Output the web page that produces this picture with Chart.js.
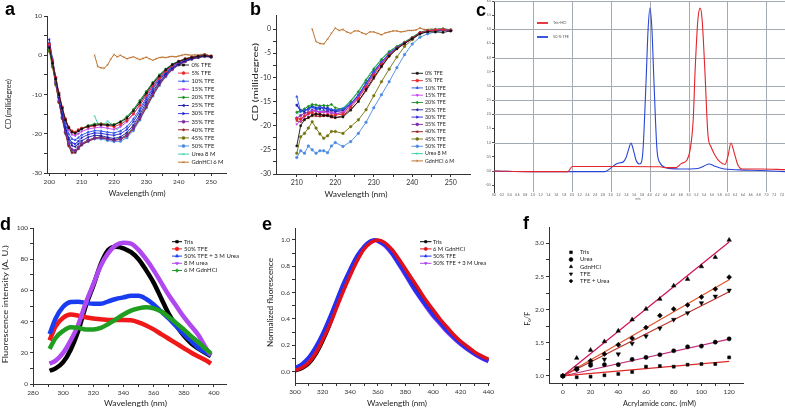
<!DOCTYPE html>
<html>
<head>
<meta charset="utf-8">
<script src="https://cdn.jsdelivr.net/npm/chart.js"></script>
<style>
  html, body { margin: 0; padding: 0; background: #fff; }
  #fig { position: relative; width: 785px; height: 410px; overflow: hidden; }
  #fig canvas { position: absolute; }
  .tag { position: absolute; z-index: 2; font: bold 18px "Liberation Sans", Arial, sans-serif; line-height: 1; color: #000; }
</style>
</head>
<body>
<div id="fig">
  <div class="tag" style="left:5px;top:0px">a</div>
  <div class="tag" style="left:250px;top:0px">b</div>
  <div class="tag" style="left:476px;top:1px">c</div>
  <div class="tag" style="left:0px;top:215px">d</div>
  <div class="tag" style="left:262px;top:215px">e</div>
  <div class="tag" style="left:523px;top:214px">f</div>
</div>
<script>
// ---------- data: a (CD, 200-250 nm) ----------
const aWave = [200,201,202,203,204,205,206,207,208,209,210,212,214,216,218,220,222,224,226,228,230,232,234,236,238,240,242,244,246,248,250];
const aTFE0  = [2.0,-2.0,-6.0,-10.0,-13.5,-16.5,-18.5,-19.6,-19.9,-19.3,-18.8,-18.1,-17.8,-17.7,-17.8,-17.8,-17.0,-16.0,-14.2,-12.0,-9.6,-7.2,-5.3,-3.7,-2.4,-1.6,-1.0,-0.6,-0.3,-0.1,-0.3];
const aTFE5  = [2.8,-1.5,-5.6,-9.6,-13.2,-16.2,-18.3,-19.3,-19.6,-19.0,-18.6,-18.3,-18.0,-17.6,-17.9,-18.2,-17.6,-16.6,-14.9,-12.7,-10.2,-7.8,-5.8,-4.0,-2.6,-1.6,-0.9,-0.5,-0.2,0.1,-0.2];
const aTFE10 = [3.2,-1.2,-5.8,-10.2,-14.0,-17.5,-20.0,-21.3,-21.6,-21.0,-20.3,-19.6,-19.2,-19.3,-19.6,-19.8,-19.3,-18.2,-16.2,-13.6,-10.8,-8.2,-6.0,-4.2,-2.8,-1.8,-1.1,-0.6,-0.3,0.0,-0.3];
const aTFE15 = [2.2,-1.8,-6.0,-10.2,-13.8,-16.8,-19.0,-20.2,-20.5,-20.0,-19.4,-18.8,-18.5,-18.3,-18.6,-18.9,-18.2,-17.0,-15.0,-12.6,-10.0,-7.6,-5.6,-3.9,-2.6,-1.7,-1.0,-0.6,-0.3,0.1,-0.2];
const aTFE20 = [1.5,-2.5,-6.3,-10.3,-13.5,-16.4,-18.4,-19.5,-19.8,-19.2,-18.6,-17.9,-17.5,-17.4,-17.6,-17.6,-16.9,-15.6,-13.8,-11.5,-9.2,-6.9,-5.0,-3.5,-2.3,-1.5,-0.9,-0.5,-0.2,0.2,-0.2];
const aTFE25 = [4.0,-1.0,-6.0,-10.8,-15.0,-18.6,-21.5,-23.0,-23.3,-22.6,-21.8,-20.9,-20.4,-20.5,-20.9,-21.2,-20.8,-19.7,-17.8,-15.0,-12.0,-9.2,-6.8,-4.8,-3.3,-2.2,-1.4,-0.9,-0.5,-0.2,-0.4];
const aTFE30 = [3.0,-1.4,-6.2,-10.8,-14.8,-18.3,-21.0,-22.3,-22.6,-21.9,-21.0,-20.2,-19.8,-19.9,-20.2,-20.4,-20.0,-18.9,-16.9,-14.2,-11.3,-8.6,-6.3,-4.5,-3.0,-2.0,-1.3,-0.8,-0.4,-0.1,-0.4];
const aTFE35 = [2.4,-2.0,-6.8,-11.5,-15.6,-19.4,-22.5,-24.0,-24.3,-23.4,-22.5,-21.6,-21.1,-21.0,-21.3,-21.6,-21.3,-20.4,-18.6,-15.8,-12.8,-9.8,-7.2,-5.1,-3.5,-2.3,-1.5,-0.9,-0.5,-0.2,-0.4];
const aTFE40 = [2.0,-2.4,-7.2,-12.0,-16.2,-20.0,-23.2,-24.9,-24.8,-23.8,-22.8,-21.9,-21.2,-21.0,-21.4,-21.7,-21.4,-20.6,-18.8,-16.2,-13.2,-10.2,-7.5,-5.3,-3.6,-2.4,-1.6,-1.0,-0.6,-0.3,-0.5];
const aTFE45 = [1.0,-3.0,-7.5,-12.0,-16.0,-19.6,-22.6,-24.2,-24.3,-23.5,-22.6,-21.7,-21.0,-20.8,-21.2,-21.5,-21.2,-20.2,-18.3,-15.6,-12.6,-9.7,-7.1,-5.0,-3.4,-2.3,-1.5,-0.9,-0.5,-0.2,-0.4];
const aTFE50 = [1.8,-2.6,-7.2,-11.8,-16.0,-19.8,-22.9,-24.5,-24.7,-23.8,-22.9,-22.0,-21.3,-21.3,-21.7,-22.0,-21.9,-21.0,-19.2,-16.5,-13.4,-10.4,-7.7,-5.5,-3.7,-2.5,-1.6,-1.0,-0.6,-0.3,-0.5];
const aUreaWave = [214,215,216,217,218,219,220,221,222,224,226,228,230,232,234,236,238,240,242,244,246,248,250];
const aUrea  = [-15.5,-17.4,-17.8,-17.6,-16.8,-17.4,-18.3,-18.9,-18.0,-16.0,-14.0,-11.6,-9.2,-6.9,-5.0,-3.5,-2.3,-1.5,-0.9,-0.4,-0.1,0.3,-0.2];
const gdnWave = [214,215,216,217,218,219,220,221,222,223,224,225,226,227,228,229,230,231,232,233,234,235,236,237,238,239,240,241,242,243,244,245,246,247,248,249,250];
const aGdn   = [0.0,-2.9,-3.2,-3.3,-2.5,-1.0,0.2,-0.4,0.0,-0.5,-0.9,-0.6,-0.4,-0.8,-1.1,-0.8,-0.5,-0.9,-1.3,-0.9,-0.6,-0.5,-0.6,-0.4,-0.3,-0.4,-0.2,0.0,0.2,0.1,0.0,0.1,0.0,0.2,0.1,-0.1,-0.3];

// ---------- data: b (CD, 210-250 nm) ----------
const bWave = [210,211,212,213,214,215,216,217,218,219,220,222,224,226,228,230,232,234,236,238,240,242,244,246,248,250];
const bTFE0  = [-24.2,-20.0,-18.8,-18.3,-17.8,-17.6,-17.7,-17.9,-17.9,-18.1,-18.3,-18.2,-16.8,-15.0,-12.5,-10.0,-7.7,-5.6,-4.1,-3.0,-2.0,-1.0,-0.6,-0.6,-0.7,-0.4];
const bTFE5  = [-18.6,-18.6,-18.0,-17.5,-17.3,-17.6,-17.6,-17.8,-17.7,-17.9,-17.8,-17.6,-16.2,-14.4,-12.0,-9.5,-7.3,-5.4,-4.0,-2.9,-1.9,-0.8,-0.4,-0.2,-0.1,-0.3];
const bTFE10 = [-14.0,-17.0,-16.8,-16.5,-16.2,-16.6,-16.1,-16.4,-16.7,-16.6,-16.8,-16.5,-15.4,-13.6,-11.2,-8.8,-6.8,-5.0,-3.8,-2.8,-1.9,-0.8,-0.4,-0.3,-0.1,-0.3];
const bTFE15 = [-19.7,-18.9,-18.1,-17.7,-17.0,-16.9,-17.2,-17.1,-17.4,-17.3,-17.6,-17.2,-15.8,-14.0,-11.6,-9.1,-7.0,-5.2,-3.9,-2.9,-1.9,-0.9,-0.4,-0.2,-0.1,-0.3];
const bTFE20 = [-17.2,-16.9,-16.5,-16.0,-15.6,-15.7,-15.9,-15.8,-15.9,-15.6,-16.3,-16.6,-15.0,-13.0,-10.6,-8.3,-6.3,-4.7,-3.6,-2.7,-1.7,-0.7,-0.3,-0.1,0.0,-0.2];
const bTFE25 = [-15.7,-16.8,-17.0,-16.4,-16.1,-16.6,-16.5,-16.2,-16.6,-16.8,-17.1,-16.9,-15.6,-13.8,-11.3,-8.9,-6.9,-5.1,-3.9,-2.9,-1.9,-0.8,-0.4,-0.2,-0.1,-0.3];
const bTFE30 = [-15.8,-17.0,-16.8,-16.7,-16.0,-16.3,-16.0,-16.5,-16.3,-16.7,-16.9,-16.7,-15.5,-13.7,-11.2,-8.8,-6.8,-5.1,-3.9,-2.9,-1.9,-0.8,-0.4,-0.2,-0.1,-0.3];
const bTFE35 = [-18.4,-17.9,-17.4,-17.3,-16.8,-17.0,-17.2,-17.1,-17.0,-17.3,-17.5,-17.3,-15.9,-14.1,-11.7,-9.2,-7.1,-5.2,-3.9,-2.9,-1.9,-0.8,-0.4,-0.2,-0.1,-0.3];
const bTFE40 = [-19.0,-19.2,-18.6,-18.4,-18.0,-18.0,-18.1,-18.0,-18.0,-18.3,-18.4,-17.9,-16.6,-15.0,-12.8,-10.3,-7.9,-5.7,-4.1,-3.0,-2.0,-0.9,-0.5,-0.3,-0.2,-0.4];
const bTFE45 = [-25.7,-22.3,-21.6,-20.5,-19.2,-20.5,-21.7,-22.6,-22.1,-21.2,-21.2,-21.6,-20.2,-18.8,-16.7,-13.8,-10.9,-8.3,-5.8,-3.6,-2.2,-1.0,-0.4,-0.3,-0.1,-0.2];
const bTFE50 = [-26.6,-25.2,-25.7,-24.2,-25.0,-25.7,-25.2,-25.2,-25.6,-24.2,-23.5,-24.3,-23.3,-21.6,-19.3,-16.3,-13.6,-10.9,-8.0,-5.3,-3.1,-1.7,-1.0,-0.6,-0.3,-0.3];
const bUrea  = [-17.5,-17.2,-17.0,-16.3,-15.8,-16.3,-16.7,-17.0,-16.9,-16.8,-16.8,-16.3,-14.8,-12.8,-10.4,-8.1,-6.2,-4.6,-3.6,-2.7,-1.7,-0.6,-0.3,-0.1,0.1,-0.2];
const bGdn   = [0.0,-2.6,-3.0,-3.1,-2.1,-0.9,0.2,-0.3,-0.1,-0.6,-0.9,-0.4,-0.4,-0.8,-1.1,-0.6,-0.6,-0.9,-1.2,-0.8,-0.6,-0.4,-0.4,-0.6,-0.5,-0.3,-0.3,-0.2,0.2,-0.1,-0.1,0.0,-0.1,0.0,0.1,-0.1,-0.2];

const cdLabels = ['0% TFE','5% TFE','10% TFE','15% TFE','20% TFE','25% TFE','30% TFE','35% TFE','40% TFE','45% TFE','50% TFE','Urea 8 M','GdnHCl 6 M'];
const cdColors = ['#111111','#e8262b','#2a52e6','#c444f2','#1f8f1f','#1c1ca6','#2424dc','#7a2aa8','#8b1212','#72720c','#4a8ae0','#2fc9a6','#b8651a'];
const cdStyles = ['rect','circle','triangle','triangle','rectRot','triangle','triangle','circle','star','circle','circle','crossRot','crossRot'];
const cdRot    = [0,0,0,180,0,-90,90,0,0,0,0,0,0];

// ---------- data: c (elution profile) ----------
const cTrisX = [0,0.93,1.90,2.01,3.24,4.27,4.40,4.68,4.81,4.96,5.04,5.12,5.17,5.24,5.30,5.35,5.42,5.50,5.58,5.68,5.81,5.94,6.02,6.09,6.17,6.27,6.38,6.84,7.48];
const cTrisY = [0,-0.02,-0.02,0.16,0.16,0.15,0.12,0.12,0.26,0.39,0.74,1.80,3.56,5.33,5.75,5.33,3.56,1.27,0.85,0.56,0.32,0.23,0.56,0.99,0.67,0.21,0.07,0.07,0.05];
const cTfeX  = [0,0.93,1.95,2.85,3.01,3.14,3.24,3.32,3.39,3.47,3.52,3.57,3.65,3.73,3.78,3.83,3.91,3.96,4.01,4.06,4.11,4.19,4.27,4.42,4.78,5.24,5.40,5.53,5.66,5.86,6.32,6.84,7.48];
const cTfeY  = [0,-0.02,-0.02,-0.02,0.11,0.25,0.29,0.32,0.46,0.81,0.99,0.81,0.39,0.25,0.28,0.74,3.21,4.98,5.75,4.98,3.21,0.74,0.28,0.12,0.07,0.09,0.18,0.25,0.18,0.09,0.04,0.02,-0.02];
const cGridX = [1,2,3,4,5,6,7];
const cGridY = [0,1,2,2.5,3,4,5,6];

// ---------- data: d (intrinsic fluorescence) ----------
const dWave  = [291,295,300,305,310,315,320,325,330,335,340,345,350,355,360,365,370,375,380,385,390,395,398];
const dTris  = [8.5,10,14,22,34,50,63,77,86,88,87,84.5,80,73,65,55,45,37.5,31,26,22.5,19.5,18];
const dTFE   = [28,37,42.5,44.5,43.8,42.8,42,41.5,41,41,41,40.8,39.5,37.5,35,32,29,26,23,20,17.5,15,13];
const dTFEU  = [32,42,49.5,52.5,52.7,52,51.5,51.5,53,54.5,55.5,56.5,56.5,54.5,51,46.5,42,37,32,27.5,23,20,18.5];
const dUrea  = [13,15,20,28,38,52,64,76,84,89,90.5,90,86,80,73,65,57,50,43,37,31,22.5,18.5];
const dGdn   = [22.5,29.5,34,36.3,36,35,35,36,38.5,41.5,44.5,47,48.5,49.2,48.5,46.5,43,39,35,30.5,26.5,22,19.5];

// ---------- data: e (normalized fluorescence) ----------
const eWave  = [300,305,310,315,320,325,330,335,340,345,350,355,358,360,365,370,375,380,385,390,395,400,405,410,415,420,425,430,435,440];
const eTris  = [0.005,0.025,0.06,0.13,0.23,0.35,0.50,0.64,0.76,0.87,0.95,0.99,1.0,0.995,0.97,0.92,0.85,0.77,0.68,0.60,0.52,0.45,0.38,0.32,0.27,0.22,0.18,0.14,0.11,0.085];
const eGdn   = [0.01,0.03,0.07,0.14,0.24,0.35,0.48,0.61,0.73,0.84,0.93,0.98,0.995,1.0,0.98,0.93,0.86,0.78,0.70,0.62,0.54,0.47,0.40,0.34,0.28,0.23,0.19,0.15,0.12,0.095];
const eTFE   = [0.03,0.06,0.11,0.19,0.29,0.41,0.54,0.67,0.78,0.88,0.95,0.995,1.0,0.99,0.96,0.90,0.82,0.74,0.65,0.57,0.50,0.43,0.37,0.31,0.26,0.21,0.17,0.135,0.105,0.08];
const eTFEU  = [0.02,0.05,0.10,0.18,0.28,0.40,0.53,0.66,0.78,0.88,0.95,0.99,1.0,0.99,0.955,0.895,0.815,0.73,0.645,0.565,0.49,0.42,0.36,0.30,0.25,0.205,0.165,0.13,0.10,0.075];

// ---------- data: f (Stern-Volmer) ----------
const fConc    = [0,10,20,30,40,50,60,70,80,90,100,110,120];
const fTris    = [1.00,0.98,0.99,1.01,1.03,1.06,1.14,1.15,1.14,1.17,1.18,1.18,1.28];
const fUrea    = [1.00,1.10,1.16,1.17,1.17,1.25,1.28,1.32,1.38,1.44,1.45,1.51,1.56];
const fGdn     = [1.00,1.27,1.39,1.52,1.68,1.85,2.01,2.16,2.36,2.46,2.65,2.79,3.05];
const fTFE     = [1.00,1.12,1.18,1.25,1.33,1.49,1.60,1.72,1.85,1.95,2.10,2.20,2.29];
const fTFEUrea = [1.00,1.10,1.23,1.33,1.47,1.57,1.73,1.91,2.01,2.07,2.19,2.31,2.49];
const fitConc  = [0,120];
const fitTris  = [1.0,1.22];
const fitUrea  = [1.0,1.555];
const fitGdn   = [1.0,3.02];
const fitTFE   = [1.0,2.27];
const fitTU    = [1.0,2.45];

// ---------- helpers ----------
const FONT = 'Lato, "Open Sans", "DejaVu Sans", sans-serif';
Chart.defaults.font.family = FONT;
Chart.defaults.color = '#333';
const fig = document.getElementById('fig');

function pts(xs, ys) { return xs.map((x, i) => ({ x: x, y: ys[i] })); }

function tickList(majors, step) {
  const lo = Math.min(...majors), hi = Math.max(...majors), out = [];
  for (let k = 0; lo + k * step <= hi + 1e-9; k++) out.push(+(lo + k * step).toFixed(4));
  return out;
}
const near = (list, v) => list.some(m => Math.abs(m - v) < 1e-6);

function axis(o) {
  const all = tickList(o.majors, o.minor);
  return {
    type: 'linear', min: o.min, max: o.max,
    border: { display: o.border !== false, color: '#333', width: 1 },
    grid: Object.assign({ drawOnChartArea: false, tickLength: 3, color: '#333' }, o.grid || {}),
    ticks: {
      font: { size: o.fs || 6.5 }, color: o.color || '#333', padding: o.pad == null ? 2 : o.pad,
      autoSkip: false, maxRotation: 0, minRotation: 0,
      callback: (v) => near(o.majors, v) ? o.fmt(v) : ''
    },
    afterBuildTicks: (s) => { s.ticks = all.map(v => ({ value: v })); }
  };
}

// light grid lines for panel c, placed through the chart's own scales
const gridPlugin = {
  id: 'panelGrid',
  beforeDatasetsDraw(chart) {
    const ex = chart.canvas.extra;
    if (!ex || !ex.grid) return;
    const g = ex.grid, ctx = chart.ctx, a = chart.chartArea;
    ctx.save();
    ctx.strokeStyle = g.color;
    ctx.lineWidth = g.width;
    ctx.beginPath();
    g.xs.forEach(v => {
      const px = Math.round(chart.scales.x.getPixelForValue(v)) + 0.5;
      ctx.moveTo(px, a.top); ctx.lineTo(px, a.bottom);
    });
    g.ys.forEach(v => {
      const py = Math.round(chart.scales.y.getPixelForValue(v)) + 0.5;
      ctx.moveTo(a.left, py); ctx.lineTo(a.right, py);
    });
    ctx.stroke();
    ctx.restore();
  }
};

const textPlugin = {
  id: 'texts',
  afterDraw(chart) {
    const ex = chart.canvas.extra;
    if (!ex || !ex.texts) return;
    const ctx = chart.ctx;
    ex.texts.forEach(t => {
      ctx.save();
      ctx.font = t.size + 'px ' + FONT;
      ctx.fillStyle = t.color || '#222';
      ctx.textAlign = 'center';
      ctx.textBaseline = 'middle';
      ctx.translate(t.x, t.y);
      if (t.rot) ctx.rotate(t.rot * Math.PI / 180);
      if (t.len) ctx.scale(t.len / ctx.measureText(t.text).width, 1);
      ctx.fillText(t.text, 0, 0);
      ctx.restore();
    });
  }
};

const keyPlugin = {
  id: 'key',
  afterDraw(chart) {
    const ex = chart.canvas.extra;
    if (!ex || !ex.key) return;
    const k = ex.key, ctx = chart.ctx;
    const list = chart.data.datasets.filter(d => d.label && d.inKey !== false);
    const drawPoint = Chart.helpers && Chart.helpers.drawPoint;
    ctx.save();
    ctx.font = k.size + 'px ' + FONT;
    ctx.textBaseline = 'middle';
    ctx.textAlign = 'left';
    list.forEach((d, i) => {
      const y = k.y + i * k.dy;
      if (k.line) {
        ctx.strokeStyle = d.borderColor;
        ctx.lineWidth = k.lw || 1;
        ctx.beginPath(); ctx.moveTo(k.x, y); ctx.lineTo(k.x + k.len, y); ctx.stroke();
      }
      if (k.mark) {
        ctx.fillStyle = d.pointBackgroundColor || d.borderColor;
        ctx.strokeStyle = d.pointBorderColor || d.borderColor;
        ctx.lineWidth = 0.6;
        if (drawPoint) {
          drawPoint(ctx, { pointStyle: d.pointStyle, rotation: d.pointRotation || 0, radius: k.r, borderWidth: 0.6 }, k.x + k.len / 2, y);
        } else {
          ctx.fillRect(k.x + k.len / 2 - k.r, y - k.r, 2 * k.r, 2 * k.r);
        }
      }
      ctx.fillStyle = k.color || '#222';
      ctx.fillText(d.label, k.x + k.len + k.gap, y);
    });
    ctx.restore();
  }
};
Chart.register(gridPlugin, textPlugin, keyPlugin);

// box: canvas placement on the page, area: wanted chart area (page px)
function makeChart(box, area, cfg) {
  const cv = document.createElement('canvas');
  cv.width = box.w; cv.height = box.h;
  cv.style.left = box.x + 'px'; cv.style.top = box.y + 'px';
  fig.appendChild(cv);
  cv.extra = {
    texts: (cfg.texts || []).map(t => Object.assign({}, t, { x: t.x - box.x, y: t.y - box.y })),
    key: cfg.key ? Object.assign({}, cfg.key, { x: cfg.key.x - box.x, y: cfg.key.y - box.y }) : null,
    grid: cfg.grid || null
  };
  cfg.scales.x.afterFit = (s) => { s.height = box.y + box.h - area.b; s.paddingLeft = 0; s.paddingRight = 0; };
  cfg.scales.y.afterFit = (s) => { s.width = area.l - box.x; s.paddingTop = 0; s.paddingBottom = 0; };
  return new Chart(cv, {
    type: 'line',
    data: { datasets: cfg.datasets },
    options: {
      responsive: false, animation: false, devicePixelRatio: 1,
      layout: { autoPadding: false, padding: { left: 0, top: area.t - box.y, right: box.x + box.w - area.r, bottom: 0 } },
      scales: cfg.scales,
      plugins: { legend: { display: false }, tooltip: { enabled: false } }
    }
  });
}

function cdSet(i, xs, ys) {
  return {
    label: cdLabels[i], data: pts(xs, ys), borderColor: cdColors[i], backgroundColor: cdColors[i],
    pointBackgroundColor: cdColors[i], pointBorderColor: cdColors[i], borderWidth: 0.9,
    pointStyle: cdStyles[i], pointRotation: cdRot[i], pointRadius: 1.3, pointBorderWidth: 0.5, tension: 0
  };
}

const fmtInt = (v) => String(Math.round(v));
const fmt1 = (v) => v.toFixed(1);

// ---------- a ----------
const aSeries = [aTFE0, aTFE5, aTFE10, aTFE15, aTFE20, aTFE25, aTFE30, aTFE35, aTFE40, aTFE45, aTFE50];
makeChart({ x: 0, y: 0, w: 245, h: 205 }, { l: 47, t: 16, r: 226, b: 173 }, {
  datasets: aSeries.map((s, i) => cdSet(i, aWave, s))
    .concat([cdSet(11, aUreaWave, aUrea), cdSet(12, gdnWave, aGdn)]),
  scales: {
    x: axis({ min: 199.3, max: 254.6, majors: [200,210,220,230,240,250], minor: 5, fmt: fmtInt }),
    y: axis({ min: -30, max: 10, majors: [-30,-20,-10,0,10], minor: 5, fmt: fmtInt })
  },
  texts: [
    { text: 'Wavelength (nm)', x: 137, y: 193.5, size: 7.5, len: 57 },
    { text: 'CD (millidegree)', x: 9, y: 104, size: 7.5, len: 50, rot: -90 }
  ],
  key: { x: 178, y: 65, dy: 8.1, len: 11, gap: 2.5, size: 5.8, line: true, mark: true, r: 1.5, lw: 0.9 }
});

// ---------- b ----------
const bSeries = [bTFE0, bTFE5, bTFE10, bTFE15, bTFE20, bTFE25, bTFE30, bTFE35, bTFE40, bTFE45, bTFE50];
makeChart({ x: 245, y: 0, w: 233, h: 205 }, { l: 276, t: 15, r: 470, b: 174 }, {
  datasets: bSeries.map((s, i) => cdSet(i, bWave, s))
    .concat([cdSet(11, bWave, bUrea), cdSet(12, gdnWave, bGdn)]),
  scales: {
    x: axis({ min: 204.6, max: 255, majors: [210,220,230,240,250], minor: 5, fmt: fmtInt, fs: 7 }),
    y: axis({ min: -30, max: 2.9, majors: [-30,-25,-20,-15,-10,-5,0], minor: 2.5, fmt: fmtInt, fs: 7 })
  },
  texts: [
    { text: 'Wavelength (nm)', x: 356, y: 194.5, size: 8, len: 63 },
    { text: 'CD (millidegree)', x: 255, y: 82, size: 7.8, len: 78, rot: -90 }
  ],
  key: { x: 411.5, y: 73.3, dy: 7.3, len: 11.5, gap: 2, size: 5.3, line: true, mark: true, r: 1.4, lw: 0.9 }
});

// ---------- c ----------
makeChart({ x: 478, y: 0, w: 307, h: 205 }, { l: 494, t: 1, r: 785, b: 192 }, {
  datasets: [
    { label: 'Tris-HCl', data: pts(cTrisX, cTrisY), borderColor: '#e3242b', borderWidth: 1.1, pointRadius: 0, cubicInterpolationMode: 'monotone' },
    { label: '50 % TFE', data: pts(cTfeX, cTfeY), borderColor: '#2846d8', borderWidth: 1.1, pointRadius: 0, cubicInterpolationMode: 'monotone' }
  ],
  scales: {
    x: axis({ min: 0, max: 7.48, majors: tickList([0, 7.4], 0.2), minor: 0.2, fmt: fmt1, fs: 3, pad: 1, color: '#555', border: false,
              grid: { drawTicks: false } }),
    y: axis({ min: -0.74, max: 6, majors: tickList([-0.5, 6], 0.5), minor: 0.5, fmt: fmt1, fs: 3, pad: 1, color: '#555',
              grid: { tickLength: 2, color: '#555' } })
  },
  grid: { xs: cGridX, ys: cGridY, color: '#a4abb2', width: 1 },
  texts: [ { text: 'min', x: 638, y: 199, size: 3, color: '#666' } ],
  key: { x: 537, y: 23, dy: 14, len: 11, gap: 5, size: 3.8, line: true, lw: 1.8, color: '#555' }
});

// ---------- d ----------
function flSet(label, xs, ys, color, style, rot, order, width) {
  return {
    label: label, data: pts(xs, ys), borderColor: color, backgroundColor: color, pointBackgroundColor: color,
    pointBorderColor: color, borderWidth: width, pointRadius: 0, pointStyle: style, pointRotation: rot,
    cubicInterpolationMode: 'monotone', order: order
  };
}
makeChart({ x: 0, y: 205, w: 245, h: 205 }, { l: 33, t: 228, r: 226, b: 384 }, {
  datasets: [
    flSet('Tris', dWave, dTris, '#000000', 'rect', 0, 5, 4.5),
    flSet('50% TFE', dWave, dTFE, '#f01818', 'circle', 0, 4, 4.5),
    flSet('50% TFE + 3 M Urea', dWave, dTFEU, '#1a3cf0', 'triangle', 0, 3, 4.5),
    flSet('8 M urea', dWave, dUrea, '#b048f0', 'triangle', 180, 2, 4.5),
    flSet('6 M GdnHCl', dWave, dGdn, '#1f9e1f', 'rectRot', 0, 1, 4.5)
  ],
  scales: {
    x: axis({ min: 280, max: 408, majors: [280,300,320,340,360,380,400], minor: 10, fmt: fmtInt }),
    y: axis({ min: 0, max: 100, majors: [0,20,40,60,80,100], minor: 10, fmt: fmtInt })
  },
  texts: [
    { text: 'Wavelength (nm)', x: 135.5, y: 403.3, size: 8, len: 63 },
    { text: 'Fluorescence intensity (A. U.)', x: 6, y: 304.3, size: 7.5, len: 118, rot: -90 }
  ],
  key: { x: 172, y: 241.7, dy: 7.2, len: 10, gap: 2, size: 6, line: true, mark: true, r: 1.8, lw: 1 }
});

// ---------- e ----------
makeChart({ x: 245, y: 205, w: 255, h: 205 }, { l: 295, t: 228, r: 489, b: 383 }, {
  datasets: [
    flSet('Tris', eWave, eTris, '#000000', 'rect', 0, 4, 3.5),
    flSet('6 M GdnHCl', eWave, eGdn, '#e0101a', 'circle', 0, 1, 3.5),
    flSet('50% TFE', eWave, eTFE, '#2430f0', 'triangle', 0, 2, 3.5),
    flSet('50% TFE + 3 M Urea', eWave, eTFEU, '#b048f0', 'triangle', 180, 3, 3.5)
  ],
  scales: {
    x: axis({ min: 300, max: 440.5, majors: [300,320,340,360,380,400,420,440], minor: 10, fmt: fmtInt }),
    y: axis({ min: -0.086, max: 1.091, majors: [0,0.2,0.4,0.6,0.8,1.0], minor: 0.1, fmt: fmt1 })
  },
  texts: [
    { text: 'Wavelength (nm)', x: 397, y: 403.3, size: 8, len: 60 },
    { text: 'Normalized fluorescence', x: 270.5, y: 302.5, size: 7.5, len: 89, rot: -90 }
  ],
  key: { x: 420, y: 241.7, dy: 7.2, len: 11.5, gap: 1.5, size: 5.8, line: true, mark: true, r: 1.6, lw: 1 }
});

// ---------- f ----------
function sv(label, ys, style, rot, r) {
  return {
    label: label, data: pts(fConc, ys), showLine: false, borderColor: '#000', pointBackgroundColor: '#000',
    pointBorderColor: '#000', pointStyle: style, pointRotation: rot, pointRadius: r, pointBorderWidth: 0.5
  };
}
function fit(ys, color) {
  return { data: pts(fitConc, ys), borderColor: color, borderWidth: 1.2, pointRadius: 0, inKey: false };
}
makeChart({ x: 505, y: 205, w: 280, h: 205 }, { l: 549, t: 227, r: 743, b: 383 }, {
  datasets: [
    sv('Tris', fTris, 'rect', 0, 2.1),
    sv('Urea', fUrea, 'circle', 0, 2.1),
    sv('GdnHCl', fGdn, 'triangle', 0, 2.6),
    sv('TFE', fTFE, 'triangle', 180, 2.6),
    sv('TFE + Urea', fTFEUrea, 'rectRot', 0, 2.5),
    fit(fitTris, '#e02828'),
    fit(fitUrea, '#bf2f7c'),
    fit(fitGdn, '#d0105a'),
    fit(fitTFE, '#b8342c'),
    fit(fitTU, '#e0552a')
  ],
  scales: {
    x: axis({ min: -10, max: 130, majors: [0,20,40,60,80,100,120], minor: 10, fmt: fmtInt }),
    y: axis({ min: 0.894, max: 3.246, majors: [1.0,1.5,2.0,2.5,3.0], minor: 0.25, fmt: fmt1 })
  },
  texts: [
    { text: 'Acrylamide conc. (mM)', x: 659.5, y: 403.3, size: 8, len: 73 },
    { text: 'F\u2080/F', x: 527.5, y: 318.8, size: 8, len: 14, rot: -90 }
  ],
  key: { x: 569, y: 252.3, dy: 7.2, len: 4, gap: 7, size: 6, mark: true, r: 1.9 }
});
</script>
</body>
</html>
